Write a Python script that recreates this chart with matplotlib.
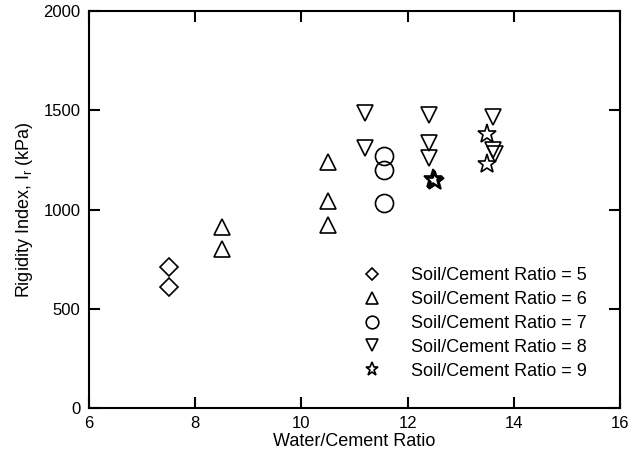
import matplotlib
matplotlib.use('Agg')
import matplotlib.pyplot as plt

plt.rcParams['font.family'] = ['Liberation Sans', 'DejaVu Sans']
plt.rcParams['mathtext.fontset'] = 'custom'
plt.rcParams['mathtext.rm'] = 'Liberation Sans'
plt.rcParams['mathtext.it'] = 'Liberation Sans'

# values
wc_5 = [7.5, 7.5]
ri_5 = [712, 612]

wc_6 = [8.5, 8.5, 10.5, 10.5, 10.5]
ri_6 = [912, 800, 1240, 1045, 920]

wc_7 = [11.55, 11.55, 11.55]
ri_7 = [1268, 1200, 1035]

wc_8 = [11.2, 11.2, 12.4, 12.4, 12.4, 13.6, 13.6, 13.65]
ri_8 = [1485, 1310, 1476, 1335, 1260, 1468, 1300, 1282]

wc_9 = [12.5, 12.52, 12.48, 13.5, 13.5]
ri_9 = [1150, 1145, 1155, 1380, 1230]

series = [
    (wc_5, ri_5, 'D', 9, 'Soil/Cement Ratio = 5'),
    (wc_6, ri_6, '^', 12, 'Soil/Cement Ratio = 6'),
    (wc_7, ri_7, 'o', 13, 'Soil/Cement Ratio = 7'),
    (wc_8, ri_8, 'v', 12, 'Soil/Cement Ratio = 8'),
    (wc_9, ri_9, '*', 14, 'Soil/Cement Ratio = 9'),
]

fig = plt.figure(figsize=(6.4, 4.58), dpi=100)
ax = fig.add_axes([0.139, 0.109, 0.830, 0.867])

for x, y, m, s, lab in series:
    ax.plot(x, y, linestyle='none', marker=m, markersize=s,
            markerfacecolor='none', markeredgecolor='black',
            markeredgewidth=1.2, label=lab)

ax.set_xlim(6, 16)
ax.set_ylim(0, 2000)
ax.set_xticks([6, 8, 10, 12, 14, 16])
ax.set_yticks([0, 500, 1000, 1500, 2000])
ax.tick_params(direction='in', length=8, width=1.5, top=True, right=True,
               labelsize=12, pad=6)
for sp in ax.spines.values():
    sp.set_linewidth(1.5)

ax.set_xlabel('Water/Cement Ratio', fontsize=13, labelpad=1)
ax.set_ylabel('Rigidity Index, I$_\\mathrm{r}$ (kPa)', fontsize=13, labelpad=6)

ax.legend(loc='lower right', bbox_to_anchor=(0.962, 0.04), frameon=False,
          fontsize=13, markerscale=0.7, handletextpad=1.2,
          labelspacing=0.38, borderpad=0.2)

fig.savefig('out.png', dpi=100)
